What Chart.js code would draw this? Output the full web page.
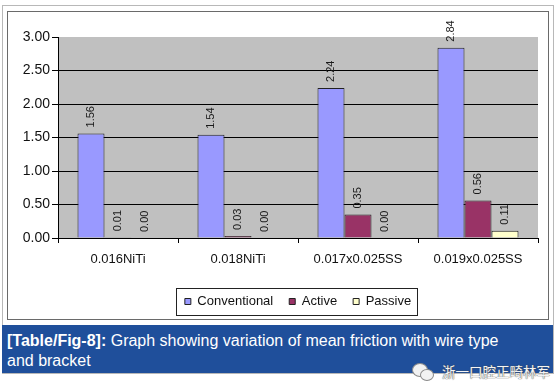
<!DOCTYPE html>
<html>
<head>
<meta charset="utf-8">
<script src="https://cdn.jsdelivr.net/npm/chart.js@4.4.1/dist/chart.umd.min.js"></script>
<style>
  html, body { margin: 0; padding: 0; background: #fff; }
  body { width: 560px; height: 386px; position: relative; overflow: hidden;
         font-family: Arial, "Liberation Sans", sans-serif; }
  #frame { position: absolute; left: 2px; top: 5px; width: 550px; height: 367px; border: 1px solid #b8b8b8; }
  #chart-box { position: absolute; left: 7px; top: 11px; width: 540px; height: 307px;
               border: 1px solid #6a6a6a; background: #fff; }
  #chart-wrap { position: absolute; left: 8px; top: 12px; width: 539px; height: 306px; }
  #caption { position: absolute; left: 2px; top: 325px; width: 551px; height: 48px;
             background: #1f4f9b; color: #fff; font-size: 16px; line-height: 20px;
             box-sizing: border-box; padding: 6px 0 0 5px; white-space: nowrap; }
  #caption b { font-weight: bold; }
  #wm { position: absolute; left: 442px; top: 362px; font-size: 13.5px; line-height: 18px;
        font-family: "Noto Sans CJK SC", sans-serif; color: #f4f4f4;
        text-shadow: 0 0 1px #555, 0 0 1px #555; white-space: nowrap; }
  .bub { position: absolute; border-radius: 50%; background: #f2f2f2; border: 1px solid #8a8a8a; }
</style>
</head>
<body>
<div id="frame"></div>
<div id="chart-box"></div>
<div id="chart-wrap"><canvas id="chart"></canvas></div>
<div id="caption"><b>[Table/Fig-8]:</b> Graph showing variation of mean friction with wire type<br>and bracket</div>
<div class="bub" style="left:412px;top:363px;width:14px;height:12px;"></div>
<div class="bub" style="left:420px;top:369px;width:12px;height:10px;"></div>
<div id="wm">浙一口腔正畸林军</div>

<script>
// ─── Data ────────────────────────────────────────────────
const categories   = ["0.016NiTi", "0.018NiTi", "0.017x0.025SS", "0.019x0.025SS"];
const conventional = [1.56, 1.54, 2.24, 2.84];
const active       = [0.01, 0.03, 0.35, 0.56];
const passive      = [0.00, 0.00, 0.00, 0.11];
const seriesNames  = ["Conventional", "Active", "Passive"];
const yMax  = 3;
const yStep = 0.5;

const FONT = 'Arial, "Liberation Sans", sans-serif';

// ─── Plugins ─────────────────────────────────────────────
// gray plot area like the old Excel default
const plotBg = {
  id: "plotBg",
  beforeDraw(chart) {
    const { ctx, chartArea: a } = chart;
    ctx.save();
    ctx.fillStyle = "#c0c0c0";
    ctx.fillRect(a.left, a.top, a.right - a.left, a.bottom - a.top);
    ctx.restore();
  }
};

// rotated value labels above each bar
const barLabels = {
  id: "barLabels",
  afterDatasetsDraw(chart) {
    const ctx = chart.ctx;
    ctx.save();
    ctx.font = "11px " + FONT;
    ctx.fillStyle = "#1a1a1a";
    ctx.textAlign = "left";
    ctx.textBaseline = "middle";
    chart.data.datasets.forEach((ds, di) => {
      chart.getDatasetMeta(di).data.forEach((bar, i) => {
        ctx.save();
        ctx.translate(bar.x, bar.y - 6);
        ctx.rotate(-Math.PI / 2);
        ctx.fillText(ds.data[i].toFixed(2), 0, 0);
        ctx.restore();
      });
    });
    ctx.restore();
  }
};

// box round the legend
const legendBox = {
  id: "legendBox",
  afterDraw(chart) {
    const hb = chart.legend && chart.legend.legendHitBoxes;
    if (!hb || !hb.length) return;
    const left   = Math.min(...hb.map(h => h.left)) - 9;
    const right  = Math.max(...hb.map(h => h.left + h.width)) + 6;
    const top    = Math.min(...hb.map(h => h.top)) - 7;
    const bottom = Math.max(...hb.map(h => h.top + h.height)) + 7;
    const ctx = chart.ctx;
    ctx.save();
    ctx.strokeStyle = "#222";
    ctx.lineWidth = 1;
    ctx.strokeRect(Math.round(left) + 0.5, Math.round(top) + 0.5, Math.round(right - left), Math.round(bottom - top));
    ctx.restore();
  }
};

// ─── Chart ───────────────────────────────────────────────
const colors = ["#9999ff", "#993366", "#ffffcc"];
const values = [conventional, active, passive];

new Chart(document.getElementById("chart"), {
  type: "bar",
  data: {
    labels: categories,
    datasets: seriesNames.map((name, i) => ({
      label: name,
      data: values[i],
      backgroundColor: colors[i],
      borderColor: "#222",
      borderWidth: 1,
      categoryPercentage: 0.675,
      barPercentage: 1,
    }))
  },
  options: {
    responsive: true,
    maintainAspectRatio: false,
    animation: false,
    layout: { padding: { top: 25, right: 9, left: 0, bottom: 0 } },
    scales: {
      x: {
        afterFit: s => { s.height = 41; },
        grid: { drawOnChartArea: false, offset: true, tickLength: 5, tickColor: "#000" },
        border: { color: "#000", width: 1 },
        ticks: { color: "#111", font: { family: FONT, size: 13 }, padding: 9, maxRotation: 0 }
      },
      y: {
        min: 0, max: yMax,
        afterFit: s => { s.width = 50; },
        grid: {
          color: c => (c.tick && c.tick.value === yMax) ? "rgba(0,0,0,0)" : "#000",
          tickLength: 6, tickColor: "#000", lineWidth: 1
        },
        border: { color: "#000", width: 1 },
        ticks: {
          stepSize: yStep, color: "#111", padding: 2,
          font: { family: FONT, size: 14 },
          callback: v => Number(v).toFixed(2)
        }
      }
    },
    plugins: {
      legend: {
        position: "bottom",
        fullSize: false,
        labels: {
          boxWidth: 6, boxHeight: 6, padding: 16,
          color: "#111", font: { family: FONT, size: 13 }
        }
      },
      tooltip: { enabled: false }
    }
  },
  plugins: [plotBg, barLabels, legendBox]
});
</script>
</body>
</html>
